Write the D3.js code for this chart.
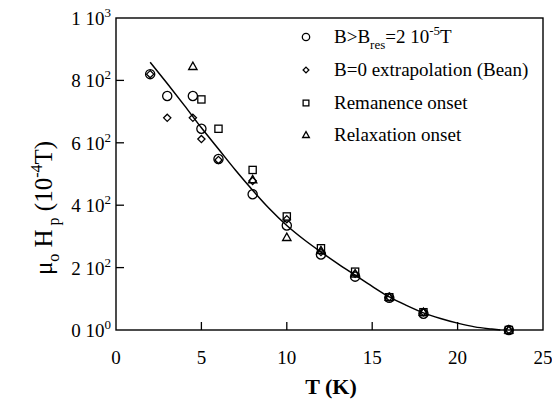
<!DOCTYPE html>
<html>
<head>
<meta charset="UTF-8">
<title>Penetration field vs temperature</title>
<script src="https://d3js.org/d3.v7.min.js"></script>
<style>
    body { margin: 0; background: #fff; }
    svg { font-family: "Liberation Serif", "DejaVu Serif", "Noto Serif", serif; }
    svg text { fill: #000; }
    .frame { fill: none; stroke: #000; stroke-width: 1.4px; }
    .tick { stroke: #000; stroke-width: 1.3px; }
    .mk { fill: none; stroke: #000; stroke-width: 1.3px; }
    .fit { fill: none; stroke: #000; stroke-width: 1.5px; }
</style>
</head>
<body>
<svg width="552" height="403"></svg>
<script>
// measured points (T in K, field in 1e-4 T)
const circleT = [2, 3, 4.5, 5, 6, 8, 10, 12, 14, 16, 18, 23];
const circleH = [820, 750, 750, 645, 548, 435, 335, 242, 171, 103, 52, 0];
const diamondT = [2, 3, 4.5, 5, 6, 8, 10, 12, 14, 16, 18, 23];
const diamondH = [820, 680, 680, 612, 545, 478, 355, 250, 180, 105, 57, 0];
const squareT = [5, 6, 8, 10, 12, 14, 16, 18, 23];
const squareH = [739, 645, 513, 364, 262, 187, 105, 57, 0];
const triangleT = [4.5, 8, 10, 12, 14, 16, 18, 23];
const triangleH = [845, 482, 297, 255, 180, 105, 57, 0];

// fitted curve
const fitT = [2, 3, 4, 5, 6, 7, 8, 9, 10, 11, 12, 13, 14, 15, 16, 17, 18, 19, 20, 21, 22, 22.5];
const fitH = [858, 790, 720, 648, 580, 512, 448, 388, 335, 290, 250, 212, 176, 140, 106, 79, 55, 37, 22, 10, 3, 0];

const xTicks = [0, 5, 10, 15, 20, 25];
const yTicks = [0, 200, 400, 600, 800, 1000];
const yTickLabels = [["0 10", "0"], ["2 10", "2"], ["4 10", "2"], ["6 10", "2"], ["8 10", "2"], ["1 10", "3"]];

const legendItems = ["circle", "diamond", "square", "triangle"];

const svg = d3.select("svg");
const plotL = 116, plotR = 543, plotT = 18, plotB = 330;

const x = d3.scaleLinear().domain([0, 25]).range([plotL, plotR]);
const y = d3.scaleLinear().domain([0, 1000]).range([plotB, plotT]);

// frame
svg.append("rect").attr("class", "frame")
    .attr("x", plotL).attr("y", plotT)
    .attr("width", plotR - plotL).attr("height", plotB - plotT);

// x ticks (inward)
svg.selectAll(".xt").data(xTicks.slice(1, -1)).enter().append("line")
    .attr("class", "tick")
    .attr("x1", d => x(d)).attr("x2", d => x(d))
    .attr("y1", plotB).attr("y2", plotB - 8);

svg.selectAll(".xl").data(xTicks).enter().append("text")
    .attr("x", d => x(d)).attr("y", plotB + 34)
    .attr("text-anchor", "middle")
    .style("font-size", "19px")
    .text(d => d);

// y ticks (inward)
svg.selectAll(".yt").data(yTicks.slice(1, -1)).enter().append("line")
    .attr("class", "tick")
    .attr("x1", plotL).attr("x2", plotL + 8)
    .attr("y1", d => y(d)).attr("y2", d => y(d));

const yl = svg.selectAll(".yl").data(yTicks).enter().append("text")
    .attr("x", plotL - 5).attr("y", d => y(d) + 7)
    .attr("text-anchor", "end")
    .style("font-size", "19px");
yl.append("tspan").text((d, i) => yTickLabels[i][0]);
yl.append("tspan").attr("dy", -8).style("font-size", "13px").text((d, i) => yTickLabels[i][1]);

// axis titles
svg.append("text")
    .attr("x", 331).attr("y", 394)
    .attr("text-anchor", "middle")
    .style("font-size", "22px").style("font-weight", "bold")
    .text("T (K)");

const yt = svg.append("text")
    .attr("transform", "translate(52,208) rotate(-90)")
    .attr("text-anchor", "middle")
    .style("font-size", "25px");
yt.append("tspan").text("\u03bc");
yt.append("tspan").attr("dy", 7).style("font-size", "16px").text("o");
yt.append("tspan").attr("dy", -7).text(" H");
yt.append("tspan").attr("dy", 7).style("font-size", "16px").text(" p");
yt.append("tspan").attr("dy", -7).text(" (10");
yt.append("tspan").attr("dy", -10).style("font-size", "16px").text("-4");
yt.append("tspan").attr("dy", 10).text("T)");

// fit curve
const line = d3.line()
    .x(d => x(d[0])).y(d => y(d[1]))
    .curve(d3.curveMonotoneX);
svg.append("path").attr("class", "fit")
    .attr("d", line(d3.zip(fitT, fitH)));

// marker shapes
function marker(g, type, s) {
    if (type === "circle") {
        g.append("circle").attr("class", "mk").attr("r", 4.6 * s);
    } else if (type === "diamond") {
        const r = 3.6 * s;
        g.append("path").attr("class", "mk")
            .attr("d", `M0,${-r}L${r},0L0,${r}L${-r},0Z`);
    } else if (type === "square") {
        const r = 3.6 * s;
        g.append("rect").attr("class", "mk")
            .attr("x", -r).attr("y", -r).attr("width", 2 * r).attr("height", 2 * r);
    } else {
        const r = 4.2 * s;
        g.append("path").attr("class", "mk")
            .attr("d", `M0,${-r}L${r},${r * 0.75}L${-r},${r * 0.75}Z`);
    }
}

function series(ts, hs, type) {
    d3.zip(ts, hs).forEach(p => {
        const g = svg.append("g").attr("transform", `translate(${x(p[0])},${y(p[1])})`);
        marker(g, type, 1);
    });
}
series(squareT, squareH, "square");
series(triangleT, triangleH, "triangle");
series(diamondT, diamondH, "diamond");
series(circleT, circleH, "circle");

// legend
const legY = [37, 70, 103, 135];
legendItems.forEach((type, i) => {
    const g = svg.append("g").attr("transform", `translate(306,${legY[i]})`);
    marker(g, type, 0.8);
});

const lx = 334;
const l0 = svg.append("text").attr("x", lx).attr("y", legY[0] + 6).style("font-size", "19px");
l0.append("tspan").text("B>B");
l0.append("tspan").attr("dy", 6).style("font-size", "13px").text("res");
l0.append("tspan").attr("dy", -6).text("=2 10");
l0.append("tspan").attr("dy", -8).style("font-size", "13px").text("-5");
l0.append("tspan").attr("dy", 8).text("T");

["B=0 extrapolation (Bean)", "Remanence onset", "Relaxation onset"].forEach((t, i) => {
    svg.append("text").attr("x", lx).attr("y", legY[i + 1] + 6)
        .style("font-size", "19px").text(t);
});
</script>
</body>
</html>
